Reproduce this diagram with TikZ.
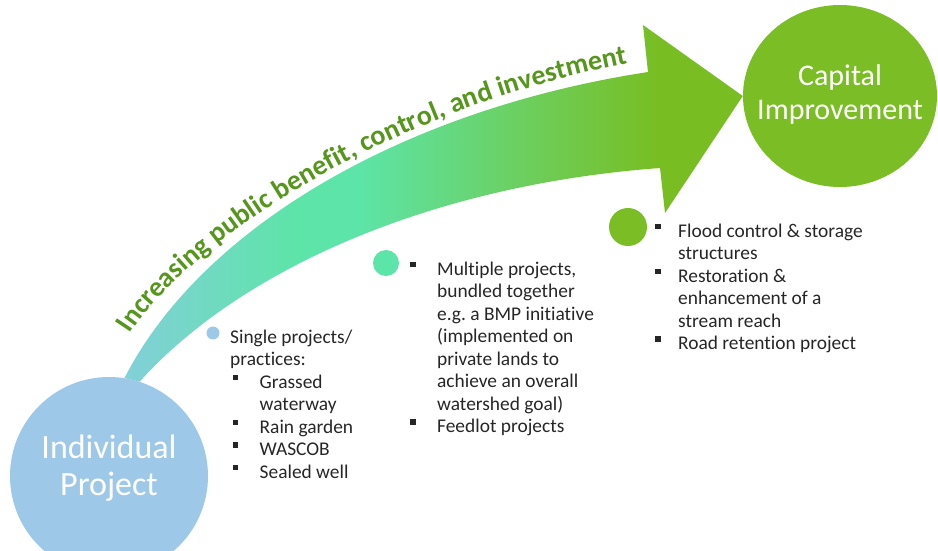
\documentclass[tikz,border=0pt]{standalone}
\usepackage{fontspec}
\setmainfont{Carlito}[Ligatures={NoCommon}]
\usetikzlibrary{shapes.geometric}
\usetikzlibrary{decorations.text}
\usetikzlibrary{backgrounds}
\frenchspacing

\definecolor{indivblue}{HTML}{9DC8E8}
\definecolor{capgreen}{HTML}{7ABD24}
\definecolor{shaftteal}{HTML}{82D0D8}
\definecolor{shaftmint}{HTML}{5DE4A8}
\definecolor{shaftgreen}{HTML}{78BE23}
\definecolor{labelgreen}{HTML}{56961D}
\definecolor{bodytext}{HTML}{262626}

\pgfdeclarehorizontalshading{shaftshade}{100bp}{color(0bp)=(shaftteal); color(25bp)=(shaftteal);
  color(39bp)=(shaftmint); color(44bp)=(shaftmint); color(68bp)=(shaftgreen); color(100bp)=(shaftgreen)}

\newcommand{\sqbul}[1][27pt]{\makebox[#1][l]{\rule[8pt]{5.5pt}{5.5pt}}}
\newcommand{\hang}[1][27pt]{\hspace*{#1}}

\begin{document}
\begin{tikzpicture}[x=1pt, y=-1pt,
    stage/.style={inner sep=0pt},
    stagetext/.style={align=center, text=white},
    dotmark/.style={circle, inner sep=0pt},
    listtext/.style={align=left, anchor=north west, inner sep=0pt, text=bodytext,
      font=\fontsize{19.4}{22.5}\selectfont}]

    \useasboundingbox (0,0) rectangle (938,550);

    % Stage circles
    \node[stage, circle, fill=indivblue, minimum size=198pt] (indiv) at (109,476) {};
    \node[stagetext, font=\fontsize{34}{37}\selectfont] (indivtext) at (109,468) {Individual\\Project};
    \node[stage, ellipse, fill=capgreen, minimum width=194pt, minimum height=182pt] (capital) at (840,96) {};
    \node[stagetext, font=\fontsize{30}{34}\selectfont] (captext) at (840,94) {Capital\\Improvement};

    % Curved arrow, behind the circles
    \begin{scope}[on background layer]
        \shade[shading=shaftshade]
            (indiv.81) .. controls (200,230) and (400,110) .. (648,72)
            -- (643,25) -- (capital.west) -- (665,213) -- (660,168)
            .. controls (430,185) and (240,270) .. (indiv.72) -- cycle;
    \end{scope}

    % Label along the arrow
    \path[decorate, decoration={text along path, text align=left,
        text={|\bfseries\fontsize{28}{32}\selectfont\color{labelgreen}|Increasing public benefit, control, and investment}}]
        (130,334) .. controls (190,240) and (410,90) .. (690,53);

    % Stage markers
    \node[dotmark, fill=indivblue, minimum size=13pt] (dotone) at (213,333) {};
    \node[dotmark, fill=shaftmint, minimum size=26pt] (dottwo) at (386,263) {};
    \node[dotmark, fill=capgreen, minimum size=38pt] (dotthree) at (628,227) {};

    % Lists
    \node[listtext] (listone) at (230,327.25) {\strut Single projects/\\
        practices:\\
        \hspace*{2.5pt}\sqbul Grassed\\
        \hang[29.5pt]waterway\\
        \hspace*{2.5pt}\sqbul Rain garden\\
        \hspace*{2.5pt}\sqbul WASCOB\\
        \hspace*{2.5pt}\sqbul Sealed well};
    \node[listtext] (listtwo) at (410,259.25) {\strut\sqbul Multiple projects,\\
        \hang bundled together\\
        \hang e.g. a BMP initiative\\
        \hang (implemented on\\
        \hang private lands to\\
        \hang achieve an overall\\
        \hang watershed goal)\\
        \sqbul Feedlot projects};
    \node[listtext] (listthree) at (655,221.25) {\strut\sqbul[23pt]Flood control \& storage\\
        \hang[23pt]structures\\
        \sqbul[23pt]Restoration \&\\
        \hang[23pt]enhancement of a\\
        \hang[23pt]stream reach\\
        \sqbul[23pt]Road retention project};
\end{tikzpicture}
\end{document}
